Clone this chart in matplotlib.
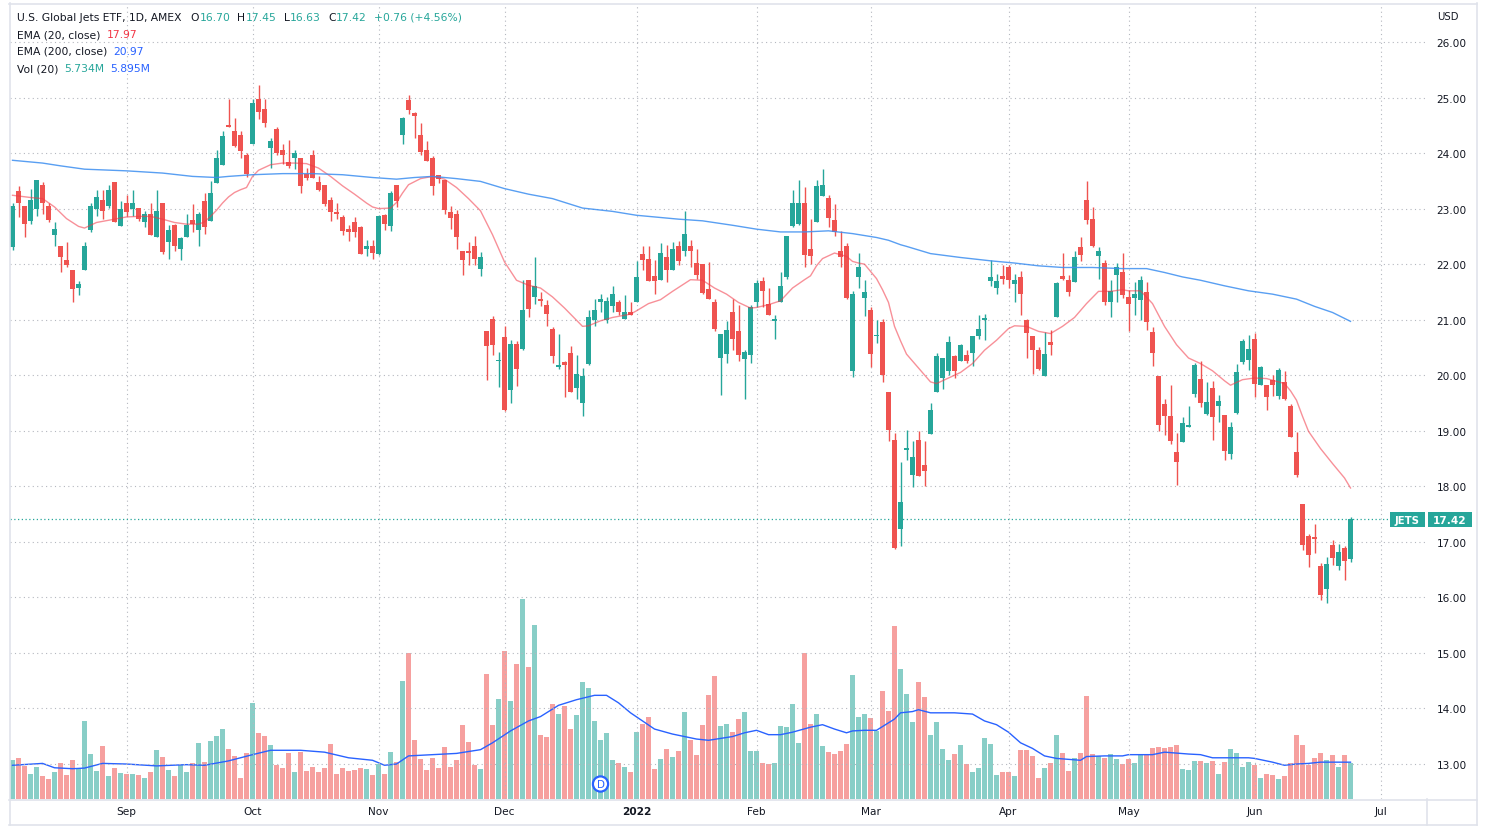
import numpy as np
import pandas as pd
import matplotlib
matplotlib.use('Agg')
import matplotlib.pyplot as plt
from matplotlib.lines import Line2D
from matplotlib.patches import Rectangle
from matplotlib.transforms import blended_transform_factory

# JETS daily candles, 2021-08-05 .. 2022-06-24
holidays = ['2021-09-06', '2021-11-25', '2021-12-24', '2022-01-17',
            '2022-02-21', '2022-04-15', '2022-05-30', '2022-06-20']

open_ = [22.30, 23.31, 23.04, 22.77, 23.00, 23.42, 23.05, 22.52, 22.33, 22.07,
         21.89, 21.57, 21.90, 22.61, 23.00, 23.15, 23.04, 23.48, 22.69, 23.10,
         23.00, 23.01, 22.76, 22.90, 22.48, 23.11, 22.39, 22.70, 22.28, 22.48,
         22.79, 22.62, 23.13, 22.77, 23.46, 23.79, 24.50, 24.39, 24.32, 23.97,
         24.17, 24.98, 24.80, 24.09, 24.44, 24.06, 23.84, 23.92, 23.92, 23.63,
         23.97, 23.48, 23.42, 23.15, 22.93, 22.84, 22.63, 22.75, 22.67, 22.28,
         22.33, 22.19, 22.88, 22.68, 23.43, 24.32, 24.95, 24.72, 24.32, 24.05,
         23.91, 23.60, 23.51, 22.93, 22.91, 22.24, 22.24, 22.33, 21.91, 20.80,
         21.01, 20.25, 20.68, 19.74, 20.56, 20.48, 21.71, 21.41, 21.36, 21.27,
         20.83, 20.15, 20.23, 20.40, 19.77, 19.50, 20.20, 20.99, 21.32, 20.99,
         21.24, 21.32, 21.01, 21.13, 21.32, 22.18, 22.10, 21.79, 21.71, 22.12,
         21.90, 22.33, 22.24, 22.33, 22.02, 22.00, 21.56, 21.32, 20.31, 20.39,
         21.13, 20.80, 20.30, 20.36, 21.32, 21.69, 21.29, 20.98, 21.32, 21.77,
         22.68, 22.72, 23.11, 22.27, 22.75, 23.23, 23.20, 22.80, 22.24, 22.32,
         20.08, 21.77, 21.39, 21.17, 20.70, 20.96, 19.69, 18.84, 17.24, 18.66,
         18.21, 18.84, 18.38, 18.94, 19.70, 19.95, 20.08, 20.35, 20.26, 20.36,
         20.40, 20.71, 20.99, 21.69, 21.57, 21.79, 21.94, 21.64, 21.76, 20.99,
         20.70, 20.45, 19.98, 20.60, 21.04, 21.79, 21.71, 21.67, 22.30, 23.16,
         22.82, 22.14, 22.02, 21.31, 21.80, 21.85, 21.41, 21.39, 21.36, 21.49,
         20.78, 19.98, 19.49, 19.26, 18.61, 18.79, 19.07, 19.67, 19.93, 19.30,
         19.77, 19.45, 19.29, 18.58, 19.32, 20.23, 20.28, 20.66, 19.83, 19.82,
         19.92, 19.62, 19.87, 19.44, 18.61, 17.68, 17.10, 17.09, 16.56, 16.15,
         16.94, 16.56, 16.89, 16.70]

high = [23.10, 23.40, 23.04, 23.36, 23.51, 23.48, 23.11, 22.75, 22.33, 22.40,
        21.89, 21.69, 22.39, 23.10, 23.34, 23.34, 23.43, 23.48, 23.13, 23.25,
        23.33, 23.01, 22.96, 23.11, 23.34, 23.11, 22.70, 22.73, 22.49, 22.91,
        23.08, 22.93, 23.29, 23.49, 24.05, 24.39, 24.98, 24.64, 24.39, 24.00,
        24.98, 25.22, 24.98, 24.27, 24.47, 24.17, 24.24, 24.06, 23.92, 23.73,
        24.06, 23.59, 23.42, 23.21, 23.11, 22.88, 22.70, 22.85, 22.68, 22.43,
        22.43, 22.88, 22.91, 23.32, 23.43, 24.65, 25.05, 24.74, 24.55, 24.21,
        23.94, 23.60, 23.51, 23.05, 22.98, 22.24, 22.40, 22.50, 22.22, 20.80,
        21.06, 20.41, 20.88, 20.63, 20.61, 21.72, 21.71, 22.12, 21.49, 21.36,
        20.86, 20.75, 20.26, 20.53, 20.36, 20.13, 21.18, 21.37, 21.46, 21.41,
        21.61, 21.36, 21.44, 21.32, 22.05, 22.32, 22.32, 22.07, 22.38, 22.35,
        22.40, 22.42, 22.95, 22.43, 22.28, 22.00, 22.04, 21.37, 20.74, 20.98,
        21.37, 21.27, 20.45, 21.26, 21.72, 21.77, 21.57, 21.09, 21.85, 22.50,
        23.33, 23.51, 23.39, 22.81, 23.51, 23.71, 23.25, 23.08, 22.60, 22.38,
        21.52, 22.20, 21.72, 21.23, 20.99, 21.01, 19.69, 18.96, 18.44, 19.02,
        18.82, 19.00, 18.82, 19.50, 20.40, 20.31, 20.70, 20.36, 20.56, 20.46,
        20.70, 21.09, 21.11, 22.07, 21.82, 21.99, 21.99, 21.82, 21.87, 21.01,
        20.71, 20.50, 20.78, 20.81, 21.67, 22.20, 21.80, 22.24, 22.48, 23.49,
        23.03, 22.30, 22.07, 21.71, 22.02, 22.20, 21.54, 21.67, 21.79, 21.67,
        20.86, 19.98, 19.57, 19.82, 18.96, 19.24, 19.45, 20.22, 20.25, 19.87,
        19.90, 19.65, 19.29, 19.16, 20.20, 20.65, 20.73, 20.76, 20.17, 19.83,
        20.00, 20.13, 20.07, 19.49, 18.97, 17.68, 17.15, 17.32, 16.62, 16.72,
        17.04, 16.97, 16.92, 17.45]

low = [22.25, 22.85, 22.48, 22.73, 22.86, 22.91, 22.75, 22.32, 21.86, 21.94,
       21.32, 21.44, 21.90, 22.58, 22.86, 22.81, 23.01, 22.76, 22.69, 22.86,
       22.86, 22.78, 22.67, 22.52, 22.48, 22.18, 22.09, 22.24, 22.07, 22.48,
       22.57, 22.33, 22.55, 22.77, 23.46, 23.79, 24.47, 24.11, 23.92, 23.57,
       24.16, 24.62, 24.47, 23.73, 23.96, 23.81, 23.74, 23.71, 23.29, 23.51,
       23.56, 23.31, 23.05, 22.78, 22.81, 22.52, 22.42, 22.48, 22.18, 22.14,
       22.09, 22.17, 22.62, 22.60, 23.03, 24.16, 24.70, 24.27, 23.97, 23.85,
       23.25, 23.46, 22.90, 22.63, 22.28, 21.80, 21.99, 21.99, 21.79, 19.91,
       20.36, 19.78, 19.35, 19.50, 19.81, 20.46, 21.04, 21.29, 21.24, 20.88,
       20.22, 20.12, 19.60, 19.69, 19.57, 19.27, 20.18, 20.89, 21.13, 20.94,
       21.13, 21.08, 21.01, 21.08, 21.31, 21.90, 21.69, 21.46, 21.71, 21.67,
       21.89, 21.99, 22.14, 21.95, 21.73, 21.47, 21.37, 20.79, 19.64, 20.22,
       20.46, 20.26, 19.57, 20.22, 21.23, 21.23, 21.08, 20.66, 21.32, 21.74,
       22.67, 22.70, 21.95, 22.00, 22.75, 23.23, 22.67, 22.50, 21.94, 21.37,
       19.97, 21.57, 21.06, 20.15, 20.58, 19.88, 18.81, 16.87, 16.93, 18.48,
       17.98, 18.18, 18.01, 18.94, 19.70, 19.76, 20.00, 19.95, 20.25, 20.22,
       20.17, 20.66, 20.63, 21.61, 21.47, 21.64, 21.57, 21.32, 21.09, 20.31,
       20.02, 20.10, 19.98, 20.36, 21.04, 21.71, 21.42, 21.67, 22.05, 22.73,
       22.30, 21.74, 21.26, 21.04, 21.31, 21.39, 20.79, 21.09, 20.99, 20.81,
       20.17, 18.99, 18.92, 18.76, 18.03, 18.79, 19.06, 19.60, 19.42, 19.29,
       18.84, 19.16, 18.48, 18.49, 19.31, 20.20, 20.10, 19.60, 19.82, 19.37,
       19.62, 19.57, 19.55, 18.89, 18.16, 16.85, 16.54, 16.80, 15.95, 15.90,
       16.58, 16.49, 16.31, 16.63]

close = [23.05, 23.11, 22.73, 23.16, 23.51, 23.10, 22.79, 22.64, 22.12, 21.99,
         21.56, 21.65, 22.33, 23.04, 23.21, 22.95, 23.33, 22.76, 22.99, 22.93,
         23.10, 22.81, 22.90, 22.52, 22.96, 22.21, 22.62, 22.32, 22.47, 22.70,
         22.73, 22.90, 22.67, 23.29, 23.92, 24.30, 24.47, 24.12, 24.04, 23.62,
         24.90, 24.74, 24.55, 24.22, 24.01, 23.96, 23.77, 24.01, 23.40, 23.56,
         23.56, 23.33, 23.08, 22.93, 22.91, 22.60, 22.58, 22.58, 22.18, 22.33,
         22.20, 22.86, 22.72, 23.29, 23.13, 24.63, 24.77, 24.67, 24.02, 23.85,
         23.41, 23.54, 22.97, 22.83, 22.48, 22.08, 22.20, 22.09, 22.12, 20.52,
         20.55, 20.28, 19.37, 20.57, 20.11, 21.18, 21.19, 21.61, 21.34, 21.11,
         20.35, 20.18, 20.18, 19.70, 20.03, 19.98, 21.04, 21.18, 21.37, 21.34,
         21.46, 21.13, 21.13, 21.08, 21.77, 22.07, 21.69, 21.69, 22.20, 21.89,
         22.27, 22.05, 22.55, 22.24, 21.81, 21.48, 21.37, 20.84, 20.74, 20.82,
         20.66, 20.36, 20.41, 21.22, 21.66, 21.52, 21.09, 21.01, 21.61, 22.50,
         23.11, 23.11, 22.17, 22.14, 23.41, 23.43, 22.83, 22.57, 22.12, 21.39,
         21.46, 21.95, 21.49, 20.38, 20.73, 20.00, 19.01, 16.89, 17.72, 18.68,
         18.53, 18.18, 18.28, 19.37, 20.35, 20.31, 20.60, 20.08, 20.55, 20.25,
         20.70, 20.84, 21.03, 21.77, 21.69, 21.74, 21.72, 21.72, 21.47, 20.76,
         20.46, 20.12, 20.38, 20.55, 21.66, 21.74, 21.49, 22.12, 22.17, 22.80,
         22.33, 22.24, 21.31, 21.52, 21.95, 21.44, 21.29, 21.46, 21.72, 20.96,
         20.40, 19.11, 19.27, 18.81, 18.43, 19.14, 19.11, 20.18, 19.50, 19.52,
         19.24, 19.54, 18.64, 19.07, 20.05, 20.61, 20.48, 19.85, 20.15, 19.60,
         19.82, 20.10, 19.57, 18.89, 18.20, 16.95, 16.77, 17.05, 16.05, 16.61,
         16.71, 16.82, 16.66, 17.42]

# volume, millions of shares
volume = [6.25, 6.5, 5.3, 4.0, 5.1, 3.7, 3.2, 4.3, 5.7, 3.8,
          6.25, 5.0, 12.5, 7.2, 4.5, 8.5, 3.7, 5.0, 4.2, 4.0,
          4.0, 3.8, 3.4, 4.3, 7.9, 6.7, 4.6, 3.7, 5.4, 4.3,
          5.7, 9.0, 6.0, 9.3, 10.1, 11.2, 8.0, 6.9, 3.4, 7.4,
          15.4, 10.6, 10.1, 8.7, 5.4, 5.0, 7.4, 4.3, 7.5, 4.5,
          5.1, 4.3, 5.0, 8.8, 4.0, 5.0, 4.5, 4.6, 5.0, 4.8,
          3.8, 5.6, 4.0, 7.5, 6.0, 18.9, 23.4, 9.4, 6.4, 4.6,
          6.5, 5.0, 8.3, 5.1, 6.25, 11.8, 9.1, 5.4, 4.8, 20.0,
          11.8, 16.0, 23.7, 15.7, 21.6, 32.1, 21.1, 27.9, 10.2, 9.9,
          15.2, 13.6, 14.9, 11.2, 13.5, 18.75, 17.8, 12.5, 9.4, 10.6,
          6.25, 5.7, 5.1, 4.3, 10.7, 12.0, 13.2, 4.8, 6.4, 8.0,
          6.7, 7.7, 13.9, 9.4, 7.1, 11.8, 16.6, 19.7, 11.7, 12.0,
          10.7, 12.8, 13.9, 7.7, 7.7, 5.7, 5.6, 5.7, 11.7, 11.5,
          15.2, 9.0, 23.4, 12.0, 13.6, 8.5, 7.5, 7.2, 7.7, 8.8,
          19.9, 13.2, 13.6, 12.9, 10.9, 17.3, 14.1, 27.7, 20.8, 16.8,
          12.4, 18.75, 16.3, 10.2, 12.4, 8.0, 6.25, 7.2, 8.7, 5.6,
          4.3, 5.0, 9.8, 8.8, 3.8, 4.3, 4.3, 3.7, 7.9, 7.9,
          6.9, 3.4, 5.0, 5.7, 10.2, 7.4, 4.5, 6.5, 7.4, 16.5,
          7.2, 6.9, 6.5, 7.2, 6.4, 5.6, 6.4, 5.7, 7.1, 7.1,
          8.2, 8.3, 8.2, 8.3, 8.7, 4.8, 4.6, 6.1, 6.1, 5.7,
          6.1, 4.0, 6.0, 8.0, 7.4, 5.1, 6.0, 5.4, 3.4, 4.0,
          3.8, 3.2, 3.7, 5.7, 10.2, 8.7, 5.4, 6.5, 7.4, 6.25,
          7.1, 5.1, 7.1, 5.734]

# indicator lines read at bar positions
ema20_idx = [0, 3, 5, 7, 9, 11, 12, 14, 17, 19, 21, 23, 25, 27, 29, 31, 32, 33, 34, 35,
             36, 37, 38, 39, 40, 41, 43, 45, 47, 49, 51, 53, 55, 57, 59, 60, 61, 63, 64, 65,
             66, 68, 70, 72, 74, 76, 78, 80, 82, 84, 86, 88, 90, 92, 94, 95, 96, 98, 100, 102,
             103, 104, 106, 108, 110, 111, 113, 115, 117, 119, 121, 123, 124, 126, 128, 130, 132, 133, 134, 135,
             137, 139, 140, 141, 142, 143, 144, 145, 146, 147, 148, 149, 151, 153, 154, 156, 158, 160, 162, 164,
             166, 167, 169, 171, 173, 175, 177, 179, 181, 183, 185, 186, 188, 190, 192, 194, 196, 198, 200, 202,
             203, 205, 207, 209, 211, 212, 213, 214, 215, 216, 218, 220, 222, 223]
ema20_val = [23.24, 23.20, 23.18, 23.03, 22.82, 22.68, 22.65, 22.75, 22.81, 22.85, 22.86, 22.86, 22.81, 22.75, 22.72, 22.72, 22.76, 22.86, 22.97, 23.10,
             23.21, 23.29, 23.34, 23.38, 23.58, 23.69, 23.79, 23.82, 23.82, 23.81, 23.73, 23.58, 23.41, 23.26, 23.10, 23.03, 23.00, 23.01, 23.11, 23.28,
             23.43, 23.54, 23.58, 23.53, 23.38, 23.18, 22.96, 22.53, 22.04, 21.71, 21.62, 21.57, 21.41, 21.21, 20.99, 20.88, 20.89, 20.98, 21.04, 21.08,
             21.10, 21.16, 21.29, 21.36, 21.51, 21.58, 21.72, 21.71, 21.57, 21.46, 21.31, 21.21, 21.22, 21.27, 21.34, 21.57, 21.72, 21.79, 21.97, 22.10,
             22.20, 22.14, 22.05, 22.02, 22.00, 21.87, 21.74, 21.54, 21.31, 20.88, 20.62, 20.38, 20.13, 19.88, 19.85, 19.95, 20.05, 20.21, 20.45, 20.63,
             20.84, 20.89, 20.88, 20.79, 20.75, 20.88, 21.04, 21.29, 21.51, 21.51, 21.54, 21.52, 21.52, 21.29, 20.88, 20.55, 20.31, 20.21, 20.08, 19.90,
             19.82, 19.92, 19.95, 19.94, 19.88, 19.85, 19.72, 19.55, 19.26, 18.99, 18.68, 18.41, 18.15, 17.97]

ema200_idx = [0, 5, 8, 12, 19, 25, 30, 34, 36, 40, 45, 50, 55, 60, 64, 67, 70, 74, 78, 82,
              86, 90, 95, 100, 104, 111, 115, 120, 124, 128, 132, 136, 140, 144, 146, 148, 149, 153, 158, 163,
              167, 171, 175, 180, 185, 189, 192, 195, 198, 202, 206, 210, 214, 217, 220, 223]
ema200_val = [23.87, 23.82, 23.77, 23.71, 23.68, 23.64, 23.58, 23.56, 23.58, 23.61, 23.63, 23.63, 23.61, 23.56, 23.53, 23.56, 23.58, 23.54, 23.49, 23.36,
              23.26, 23.18, 23.01, 22.95, 22.88, 22.81, 22.78, 22.70, 22.63, 22.58, 22.58, 22.60, 22.55, 22.48, 22.43, 22.35, 22.32, 22.19, 22.12, 22.06,
              22.02, 21.97, 21.94, 21.94, 21.92, 21.92, 21.85, 21.77, 21.71, 21.61, 21.52, 21.46, 21.37, 21.24, 21.13, 20.97]

volma_idx = [0, 5, 7, 10, 12, 15, 19, 24, 29, 32, 36, 40, 43, 48, 52, 56, 60, 62, 64, 66,
             70, 74, 78, 80, 83, 86, 88, 91, 94, 97, 99, 101, 103, 105, 107, 110, 112, 114, 116, 118,
             120, 122, 124, 126, 128, 130, 133, 135, 137, 139, 140, 142, 144, 146, 147, 148, 150, 151, 153, 157,
             160, 162, 164, 166, 168, 170, 172, 174, 178, 179, 182, 185, 186, 190, 192, 194, 196, 198, 200, 202,
             204, 206, 207, 210, 212, 214, 216, 218, 220, 223]
volma_val = [5.4, 5.7, 5.0, 4.85, 4.95, 5.7, 5.6, 5.3, 5.5, 5.4, 6.1, 7.1, 7.8, 7.8, 7.5, 6.6, 6.2, 5.4, 5.6, 6.9,
             7.1, 7.3, 7.9, 9.0, 10.9, 12.5, 13.2, 15.0, 15.9, 16.6, 16.6, 15.4, 13.8, 12.5, 11.2, 10.4, 10.0, 9.6, 9.4, 9.7,
             10.0, 10.6, 11.0, 10.3, 10.3, 10.7, 11.5, 11.9, 11.2, 10.6, 10.9, 11.0, 11.0, 12.2, 12.8, 13.8, 14.0, 14.3, 13.8, 13.8,
             13.6, 12.5, 11.9, 10.7, 9.0, 8.1, 6.9, 6.5, 6.2, 6.8, 6.9, 6.9, 7.1, 7.1, 7.5, 7.35, 7.2, 7.1, 6.6, 6.6,
             6.6, 6.6, 6.5, 5.9, 5.4, 5.6, 5.7, 5.9, 5.9, 5.895]

month_labels = ['Sep', 'Oct', 'Nov', 'Dec', '2022', 'Feb', 'Mar', 'Apr', 'May', 'Jun', 'Jul']
price_ticks = list(range(13, 27))
last_price = 17.42

W, H = 1487, 829
UP = '#26a69a'
DOWN = '#ef5350'
TXT = '#131722'
GRID = '#b4b7bf'
BORDER = '#e0e3eb'
BLUE = '#2962ff'


def fx(px):
    return px / W


def fy(py):
    return 1 - py / H


days = pd.bdate_range('2021-08-05', '2022-07-01', freq='C', holidays=holidays)
month_pos = [i for i in range(1, len(days)) if days[i].month != days[i - 1].month]

o = np.array(open_)
h = np.array(high)
l = np.array(low)
c = np.array(close)
x = np.arange(len(c))
col = np.where(c >= o, UP, DOWN)

fig = plt.figure(figsize=(W / 100, H / 100), dpi=100)
fig.patch.set_facecolor('white')

rect = [fx(10), fy(800), fx(1417), 795 / H]
axv = fig.add_axes(rect)
ax = fig.add_axes(rect)
ax.patch.set_visible(False)
xlim = (-0.42, 235.75)

# volume pane (under the candles)
axv.set_xlim(*xlim)
axv.set_ylim(0, 127.3)
axv.axis('off')
axv.bar(x, volume, width=0.78, color=col, alpha=0.55, linewidth=0)
axv.plot(volma_idx, volma_val, color=BLUE, lw=1.0)

ax.set_xlim(*xlim)
ax.set_ylim(12.370, 26.684)
for s in ax.spines.values():
    s.set_visible(False)
ax.grid(True, color=GRID, ls=(0, (1, 3)), lw=0.8, zorder=0)

ax.vlines(x, l, h, colors=col, lw=1.0, zorder=3)
ax.bar(x, np.maximum(np.abs(c - o), 0.025), bottom=np.minimum(o, c), width=0.76,
       color=col, linewidth=0, zorder=4)

ax.plot(ema20_idx, ema20_val, color='#f23645', alpha=0.55, lw=1.0, zorder=5)
ax.plot(ema200_idx, ema200_val, color='#3c8ef0', alpha=0.85, lw=1.0, zorder=5)

ax.axhline(last_price, xmax=(1390 - 10) / 1417, color=UP, ls=(0, (1, 2)), lw=0.9, zorder=2)

ax.yaxis.tick_right()
ax.set_yticks(price_ticks)
ax.set_yticklabels([f'{p:.2f}' for p in price_ticks])
ax.tick_params(axis='y', length=0, pad=7, labelsize=7.6, labelcolor=TXT)
ax.set_xticks(month_pos)
ax.set_xticklabels(month_labels)
ax.tick_params(axis='x', length=0, pad=5, labelsize=7.6, labelcolor=TXT)
for t in ax.get_xticklabels():
    if t.get_text() == '2022':
        t.set_fontweight('bold')

# dividend marker
btr = blended_transform_factory(ax.transData, ax.transAxes)
ax.text(98, (800 - 785) / 795, 'D', transform=btr, ha='center', va='center',
        color=BLUE, fontsize=7.5, zorder=6,
        bbox=dict(boxstyle='circle,pad=0.25', fc='white', ec=BLUE, lw=1.6))

# price labels on the right
fig.patches.append(Rectangle((fx(1390), fy(528)), fx(35), 15 / H, transform=fig.transFigure,
                             fc=UP, ec='none'))
fig.patches.append(Rectangle((fx(1428), fy(528)), fx(44), 15 / H, transform=fig.transFigure,
                             fc=UP, ec='none'))
fig.text(fx(1407.5), fy(520.5), 'JETS', color='white', fontsize=7.3, fontweight='bold',
         ha='center', va='center')
fig.text(fx(1450), fy(520.5), f'{last_price:.2f}', color='white', fontsize=7.6, fontweight='bold',
         ha='center', va='center')
fig.text(fx(1437), fy(17), 'USD', color=TXT, fontsize=7.3, ha='left', va='center')

# frame lines
for x0, y0, x1, y1 in [(9, 4.5, 1477, 4.5), (9, 800.5, 1477, 800.5), (9, 826, 1477, 826),
                       (9.5, 4, 9.5, 826), (1477, 4, 1477, 826), (1427, 800, 1427, 826)]:
    fig.add_artist(Line2D([fx(x0), fx(x1)], [fy(y0), fy(y1)], color=BORDER, lw=1.2))

# legend rows
renderer = fig.canvas.get_renderer()
FS = 7.75


def put_row(ypx, parts, xpx=17):
    for s, color, gap in parts:
        t = fig.text(fx(xpx), fy(ypx), s, color=color, fontsize=FS, ha='left', va='center')
        bb = t.get_window_extent(renderer)
        xpx = bb.x1 + gap


put_row(18, [('U.S. Global Jets ETF, 1D, AMEX', TXT, 9), ('O', TXT, 0.5), ('16.70', UP, 7),
             ('H', TXT, 0.5), ('17.45', UP, 7), ('L', TXT, 0.5), ('16.63', UP, 7),
             ('C', TXT, 0.5), ('17.42', UP, 7), ('+0.76 (+4.56%)', UP, 0)])
put_row(35, [('EMA (20, close)', TXT, 6), ('17.97', '#f23645', 0)])
put_row(52, [('EMA (200, close)', TXT, 6), ('20.97', BLUE, 0)])
put_row(69, [('Vol (20)', TXT, 6), ('5.734M', UP, 6), ('5.895M', BLUE, 0)])

fig.savefig('out.png', dpi=100)
